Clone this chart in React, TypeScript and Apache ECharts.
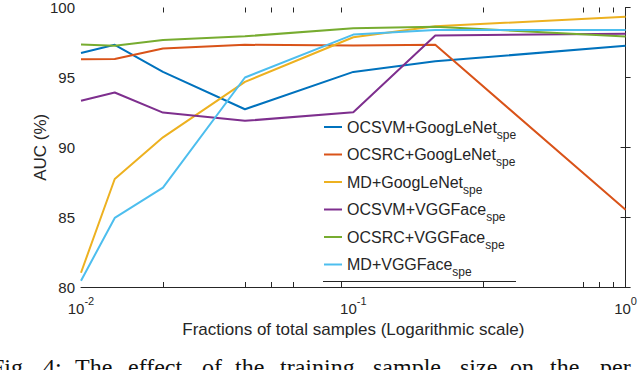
import React, { useEffect, useRef } from "react";
import * as echarts from "echarts";

const fractions = [0.01, 0.0133, 0.02, 0.04, 0.1, 0.2, 1];
const ocsvmGoogLeNet = [96.74, 97.33, 95.39, 92.72, 95.39, 96.15, 97.26];
const ocsrcGoogLeNet = [96.29, 96.31, 97.07, 97.33, 97.28, 97.33, 85.53];
const mdGoogLeNet = [81.02, 87.73, 90.71, 94.68, 97.87, 98.65, 99.34];
const ocsvmVGGFace = [93.33, 93.92, 92.48, 91.89, 92.5, 97.99, 98.13];
const ocsrcVGGFace = [97.35, 97.26, 97.68, 97.94, 98.51, 98.63, 97.92];
const mdVGGFace = [80.45, 84.94, 87.11, 94.99, 98.06, 98.39, 98.39];

const seriesNames = [
  "OCSVM+GoogLeNet",
  "OCSRC+GoogLeNet",
  "MD+GoogLeNet",
  "OCSVM+VGGFace",
  "OCSRC+VGGFace",
  "MD+VGGFace",
];
const seriesValues = [ocsvmGoogLeNet, ocsrcGoogLeNet, mdGoogLeNet, ocsvmVGGFace, ocsrcVGGFace, mdVGGFace];
const seriesColors = ["#0072BD", "#D95319", "#EDB120", "#7E2F8E", "#77AC30", "#4DBEEE"];

const xTickFractions = [0.02, 0.04, 0.05, 0.06, 0.09, 0.3, 0.7, 0.8, 0.9];
const rightYTicks = [85, 90];

const captionWords: [string, number][] = [
  ["Fig.", -9],
  ["4:", 43],
  ["The", 75],
  ["effect", 128],
  ["of", 202],
  ["the", 235],
  ["training", 280],
  ["sample", 373],
  ["size", 460],
  ["on", 510],
  ["the", 550],
  ["per", 600],
];

const FONT = "Liberation Sans";
const SERIF = "Liberation Serif";
const AX = "#262626";

export default function App() {
  const ref = useRef<HTMLDivElement>(null);
  useEffect(() => {
    if (!ref.current) return;
    const chart = echarts.init(ref.current, undefined, { renderer: "svg" });
    const lg = (v: number) => Math.log10(v);
    chart.setOption({
      animation: false,
      backgroundColor: "#ffffff",
      textStyle: { fontFamily: FONT },
      grid: { left: 81, right: 12, top: 5, bottom: 83 },
      xAxis: [
        {
          type: "value",
          min: -2,
          max: 0,
          interval: 1,
          position: "bottom",
          name: "Fractions of total samples (Logarithmic scale)",
          nameLocation: "middle",
          nameGap: 32,
          nameTextStyle: { fontSize: 17, color: AX, fontFamily: FONT },
          axisLine: { show: true, lineStyle: { color: AX, width: 1 } },
          axisTick: {
            show: true,
            inside: true,
            length: 5,
            customValues: xTickFractions.map(lg),
            lineStyle: { color: AX },
          },
          splitLine: { show: false },
          axisLabel: {
            margin: 8,
            color: AX,
            fontFamily: FONT,
            formatter: (v: number) => `{b|10}{p|${Math.round(v)}}`,
            rich: {
              b: { fontSize: 15, lineHeight: 21, verticalAlign: "bottom", fontFamily: FONT, color: AX },
              p: { fontSize: 11, lineHeight: 21, verticalAlign: "top", fontFamily: FONT, color: AX },
            },
          },
        },
        {
          type: "value",
          min: -2,
          max: 0,
          interval: 1,
          position: "top",
          axisLine: { show: false },
          axisTick: {
            show: true,
            inside: true,
            length: 5,
            customValues: xTickFractions.map(lg),
            lineStyle: { color: AX },
          },
          axisLabel: { show: false },
          splitLine: { show: false },
        },
      ],
      yAxis: [
        {
          type: "value",
          min: 80,
          max: 100,
          interval: 5,
          position: "left",
          name: "AUC (%)",
          nameLocation: "middle",
          nameGap: 32,
          nameMoveOverlap: false,
          nameTextStyle: { fontSize: 17, color: AX, fontFamily: FONT },
          axisLine: { show: true, lineStyle: { color: AX, width: 1 } },
          axisTick: { show: true, inside: true, length: 5, lineStyle: { color: AX } },
          splitLine: { show: false },
          axisLabel: { fontSize: 15, color: AX, margin: 6, fontFamily: FONT },
        },
        {
          type: "value",
          min: 80,
          max: 100,
          interval: 5,
          position: "right",
          axisLine: { show: false },
          axisTick: { show: true, inside: true, length: 5, customValues: rightYTicks, lineStyle: { color: AX } },
          axisLabel: { show: false },
          splitLine: { show: false },
        },
      ],
      legend: {
        orient: "vertical",
        left: 324,
        top: 119,
        padding: 0,
        itemGap: 6,
        icon: "rect",
        itemWidth: 18,
        itemHeight: 2,
        data: seriesNames,
        formatter: (name: string) => `{a|${name}}{s|spe}`,
        textStyle: {
          color: AX,
          fontFamily: FONT,
          rich: {
            a: { fontSize: 16, lineHeight: 27, verticalAlign: "middle", fontFamily: FONT, color: AX },
            s: { fontSize: 12, lineHeight: 27, verticalAlign: "bottom", fontFamily: FONT, color: AX },
          },
        },
      },
      series: seriesNames.map((name, i) => ({
        name,
        type: "line",
        xAxisIndex: 0,
        yAxisIndex: 0,
        showSymbol: false,
        symbol: "none",
        color: seriesColors[i],
        lineStyle: { width: 2, color: seriesColors[i] },
        data: fractions.map((f, j) => [lg(f), seriesValues[i][j]]),
      })),
      graphic: [
        {
          type: "line",
          shape: { x1: 323, y1: 281.5, x2: 516, y2: 281.5 },
          style: { stroke: AX, lineWidth: 1 },
          z: 100,
        },
        ...captionWords.map(([w, x]) => ({
          type: "text",
          left: x,
          top: 355,
          style: {
            text: w,
            fontSize: 24,
            fontFamily: SERIF,
            fill: "#111111",
          },
        })),
      ],
    });
    return () => chart.dispose();
  }, []);
  return <div ref={ref} style={{ width: 640, height: 370, position: "absolute", left: 0, top: 0 }} />;
}
